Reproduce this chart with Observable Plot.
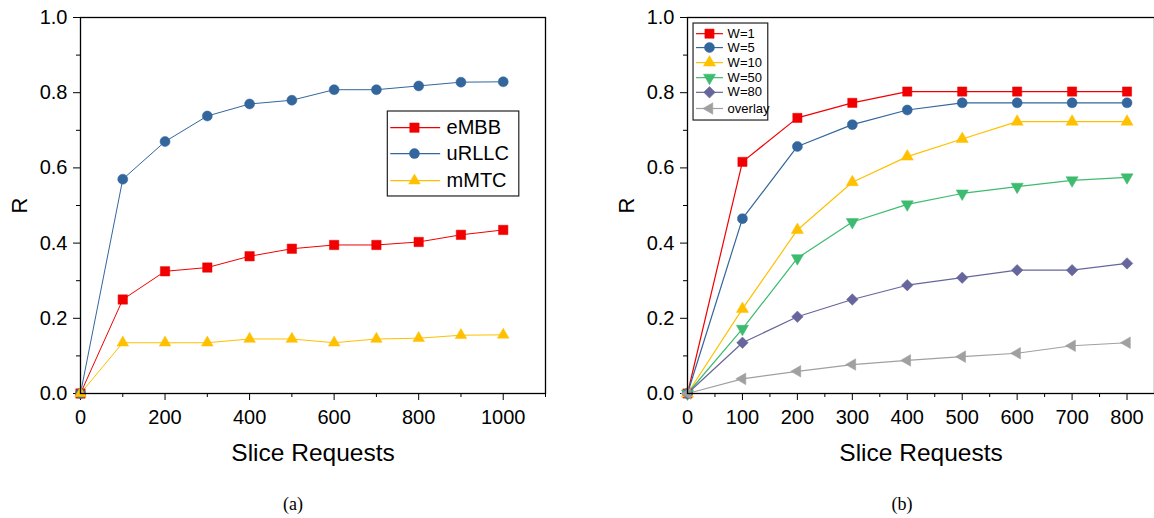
<!DOCTYPE html>
<html>
<head>
<meta charset="utf-8">
<script src="https://cdn.jsdelivr.net/npm/d3@7"></script>
<script src="https://cdn.jsdelivr.net/npm/@observablehq/plot@0.6"></script>
<style>
  body { margin:0; width:1154px; height:518px; position:relative; background:#fff; font-family:"Liberation Sans", Arial, sans-serif; overflow:hidden; }
  .fig { position:absolute; top:0; }
  .cap { position:absolute; top:494px; font-family:"Liberation Serif","Times New Roman",serif; font-size:18px; transform:translateX(-50%); }
</style>
</head>
<body>
<div id="a" class="fig" style="left:0"></div>
<div id="b" class="fig" style="left:607px"></div>
<div class="cap" style="left:293px">(a)</div>
<div class="cap" style="left:902px">(b)</div>
<script>
// ---------- data (a) ----------
const xA = [0, 100, 200, 300, 400, 500, 600, 700, 800, 900, 1000];
const eMBB  = [0, 0.250, 0.325, 0.335, 0.365, 0.385, 0.395, 0.395, 0.403, 0.422, 0.435];
const uRLLC = [0, 0.570, 0.670, 0.738, 0.770, 0.780, 0.808, 0.808, 0.818, 0.828, 0.829];
const mMTC  = [0, 0.135, 0.135, 0.135, 0.145, 0.145, 0.135, 0.145, 0.147, 0.155, 0.156];
const namesA = ["eMBB", "uRLLC", "mMTC"];

// ---------- data (b) ----------
const xB = [0, 100, 200, 300, 400, 500, 600, 700, 800];
const W1  = [0, 0.616, 0.733, 0.773, 0.803, 0.803, 0.803, 0.803, 0.803];
const W5  = [0, 0.465, 0.657, 0.715, 0.754, 0.773, 0.773, 0.773, 0.773];
const W10 = [0, 0.225, 0.435, 0.562, 0.630, 0.677, 0.723, 0.723, 0.723];
const W50 = [0, 0.172, 0.360, 0.456, 0.503, 0.532, 0.550, 0.567, 0.575];
const W80 = [0, 0.135, 0.204, 0.250, 0.288, 0.308, 0.328, 0.328, 0.346];
const overlay = [0, 0.039, 0.059, 0.077, 0.088, 0.098, 0.107, 0.127, 0.135];
const namesB = ["W=1", "W=5", "W=10", "W=50", "W=80", "overlay"];

// tick values
const yMajor = [0, 0.2, 0.4, 0.6, 0.8, 1.0];
const yMinor = [0.1, 0.3, 0.5, 0.7, 0.9];
const xMajorA = [0, 200, 400, 600, 800, 1000];
const xMinorA = [100, 300, 500, 700, 900, 1100];
const xMajorB = [0, 100, 200, 300, 400, 500, 600, 700, 800];
const xMinorB = [50, 150, 250, 350, 450, 550, 650, 750, 850];

// ---------- styles ----------
const triDown = {draw(ctx, size) {
  const y = -Math.sqrt(size / (Math.sqrt(3) * 3));
  ctx.moveTo(0, -y * 2); ctx.lineTo(-Math.sqrt(3) * y, y); ctx.lineTo(Math.sqrt(3) * y, y); ctx.closePath();
}};
const triLeft = {draw(ctx, size) {
  const y = -Math.sqrt(size / (Math.sqrt(3) * 3));
  ctx.moveTo(y * 2, 0); ctx.lineTo(-y, -Math.sqrt(3) * y); ctx.lineTo(-y, Math.sqrt(3) * y); ctx.closePath();
}};
const diamond = {draw(ctx, size) {
  const h = Math.sqrt(size / 2);
  ctx.moveTo(0, -h); ctx.lineTo(h, 0); ctx.lineTo(0, h); ctx.lineTo(-h, 0); ctx.closePath();
}};
const styleA = {
  eMBB:  {color: "#f00000", symbol: "square",   r: 5.3},
  uRLLC: {color: "#33669c", symbol: "circle",   r: 5.0},
  mMTC:  {color: "#ffc000", symbol: "triangle", r: 4.3}
};
const styleB = {
  "W=1":     {color: "#f00000", symbol: "square",   r: 5.2},
  "W=5":     {color: "#33669c", symbol: "circle",   r: 5.0},
  "W=10":    {color: "#ffc000", symbol: "triangle", r: 4.5},
  "W=50":    {color: "#3dbb6e", symbol: triDown,    r: 4.5},
  "W=80":    {color: "#66669c", symbol: diamond,    r: 4.6},
  "overlay": {color: "#a0a0a0", symbol: triLeft,    r: 4.3}
};

const dataA = [eMBB, uRLLC, mMTC].flatMap((ys, i) => ys.map((y, j) => ({series: namesA[i], x: xA[j], y})));
const dataB = [W1, W5, W10, W50, W80, overlay].flatMap((ys, i) => ys.map((y, j) => ({series: namesB[i], x: xB[j], y})));

function seriesMarks(data, names, style, sw) {
  const marks = [];
  for (const n of names) {
    const d = data.filter(e => e.series === n);
    const s = style[n];
    marks.push(Plot.line(d, {x: "x", y: "y", stroke: s.color, strokeWidth: sw}));
  }
  for (const n of names) {
    const d = data.filter(e => e.series === n);
    const s = style[n];
    marks.push(Plot.dot(d, {x: "x", y: "y", symbol: s.symbol, r: s.r, fill: s.color, stroke: s.color, strokeWidth: 0.5}));
  }
  return marks;
}

function legendMarks(names, style, box, xs, ys, fontSize, sw) {
  const items = names.map((n, i) => ({n, y: ys[i]}));
  const marks = [Plot.rect([box], {x1: "x1", x2: "x2", y1: "y1", y2: "y2", fill: "white", stroke: "#222", strokeWidth: 1.2})];
  for (const it of items) {
    const s = style[it.n];
    marks.push(Plot.ruleY([it], {x1: xs[0], x2: xs[1], y: "y", stroke: s.color, strokeWidth: sw}));
    marks.push(Plot.dot([it], {x: xs[2], y: "y", symbol: s.symbol, r: s.r, fill: s.color, stroke: s.color, strokeWidth: 0.5}));
    marks.push(Plot.text([it], {x: xs[3], y: "y", text: "n", textAnchor: "start", fontSize, fill: "#000"}));
  }
  return marks;
}

function axes(xMajor, xMinor) {
  return [
    Plot.axisX(xMajor, {tickSize: 7, tickPadding: 9, tickFormat: d => String(d), label: null, fontSize: 20}),
    Plot.axisX(xMinor, {tickSize: 4, tickFormat: () => "", label: null}),
    Plot.axisY(yMajor, {tickSize: 7, tickPadding: 6, tickFormat: d => d.toFixed(1), label: null, fontSize: 20}),
    Plot.axisY(yMinor, {tickSize: 4, tickFormat: () => "", label: null}),
    Plot.text(["Slice Requests"], {frameAnchor: "bottom", lineAnchor: "middle", textAnchor: "middle", dy: 60, fontSize: 24.5, fill: "#000"}),
    Plot.text(["R"], {frameAnchor: "left", lineAnchor: "middle", textAnchor: "middle", dx: -61, rotate: -90, fontSize: 22, fill: "#000"})
  ];
}

const common = {
  height: 470, marginTop: 17, marginBottom: 77, marginLeft: 80,
  y: {domain: [0, 1]},
  style: {fontFamily: "'Liberation Sans', Arial, sans-serif", fontSize: "20px", color: "#000", background: "transparent", overflow: "visible"}
};

const plotA = Plot.plot({
  ...common, width: 600, marginRight: 55,
  x: {domain: [0, 1100]},
  marks: [
    ...axes(xMajorA, xMinorA),
    ...seriesMarks(dataA, namesA, styleA, 1),
    ...legendMarks(namesA, styleA, {x1: 727, x2: 1038, y1: 0.524, y2: 0.750}, [734, 852, 790, 866], [0.707, 0.638, 0.566], 20, 1.2),
    Plot.frame({stroke: "#000", strokeWidth: 1.3})
  ]
});
document.getElementById("a").appendChild(plotA);

const plotB = Plot.plot({
  ...common, width: 547, marginRight: 0,
  x: {domain: [0, 850]},
  marks: [
    ...axes(xMajorB, xMinorB),
    ...seriesMarks(dataB, namesB, styleB, 1.2),
    ...legendMarks(namesB, styleB, {x1: 11, x2: 147, y1: 0.726, y2: 0.984}, [16.4, 65.5, 40, 73], [0.957, 0.920, 0.880, 0.840, 0.801, 0.758], 13, 1.2),
    Plot.frame({stroke: "#000", strokeWidth: 1.3})
  ]
});
document.getElementById("b").appendChild(plotB);
</script>
</body>
</html>
